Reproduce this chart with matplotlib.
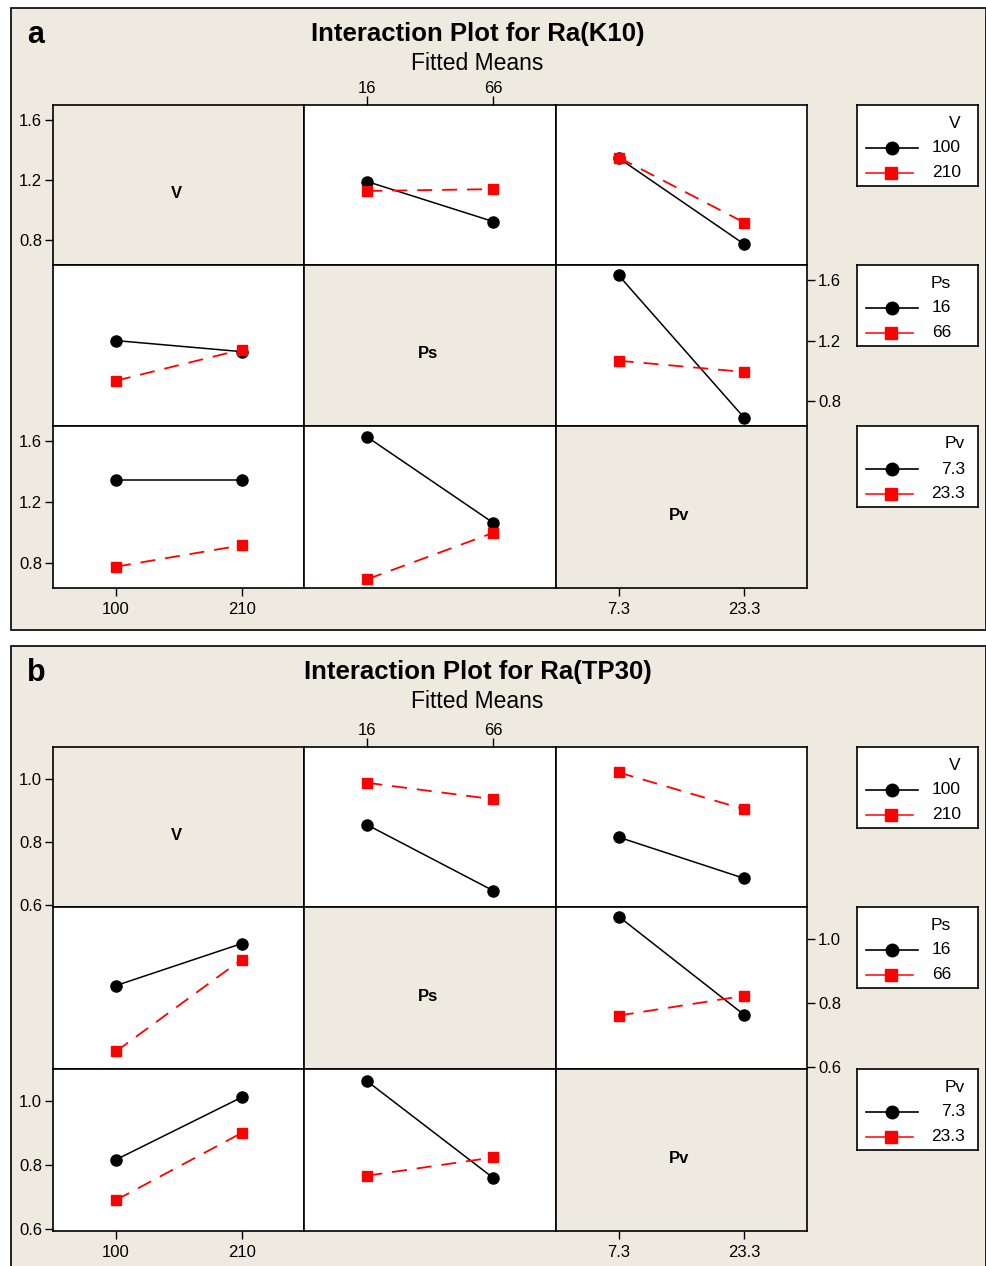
import matplotlib
matplotlib.use('Agg')
import matplotlib.pyplot as plt
from matplotlib.patches import Rectangle

plt.rcParams['font.family'] = ['Liberation Sans', 'DejaVu Sans']

# factors and their levels
FACTORS = ['V', 'Ps', 'Pv']
LEVELS = [['100', '210'], ['16', '66'], ['7.3', '23.3']]

# fitted means, Ra(K10); rows = levels of the legend factor, cols = levels of x factor
K10_V_Ps = [[1.19, 0.925], [1.128, 1.14]]
K10_V_Pv = [[1.346, 0.774], [1.35, 0.918]]
K10_Ps_V = [[1.20, 1.127], [0.935, 1.14]]
K10_Ps_Pv = [[1.63, 0.69], [1.067, 0.993]]
K10_Pv_V = [[1.345, 1.345], [0.776, 0.916]]
K10_Pv_Ps = [[1.626, 1.064], [0.694, 0.998]]

# fitted means, Ra(TP30)
TP30_V_Ps = [[0.854, 0.645], [0.988, 0.936]]
TP30_V_Pv = [[0.815, 0.684], [1.021, 0.904]]
TP30_Ps_V = [[0.855, 0.987], [0.648, 0.937]]
TP30_Ps_Pv = [[1.072, 0.763], [0.761, 0.823]]
TP30_Pv_V = [[0.817, 1.013], [0.69, 0.901]]
TP30_Pv_Ps = [[1.063, 0.76], [0.767, 0.824]]

K10_TICKS = [0.8, 1.2, 1.6]
TP30_TICKS = [0.6, 0.8, 1.0]

W, H = 987, 1266
BEIGE = '#EEEAE0'
COLS = [53, 304.5, 556, 807]


def box(x0, y0, x1, y1):
    return [x0 / W, 1 - y1 / H, (x1 - x0) / W, (y1 - y0) / H]


def draw_panel(fig, bg, top, rows, letter, title, cells, ylim, yticks):
    # outer beige frame
    bg.add_patch(Rectangle((11, top), 975, 622, facecolor=BEIGE, edgecolor='black', lw=1.2))
    bg.text(27, top + 27, letter, fontsize=22, fontweight='bold', ha='left', va='center')
    bg.text(478, top + 26, title, fontsize=18.5, fontweight='bold', ha='center', va='center')
    bg.text(477, top + 55, 'Fitted Means', fontsize=16.5, ha='center', va='center')

    for r in range(3):
        for c in range(3):
            ax = fig.add_axes(box(COLS[c], rows[r], COLS[c + 1], rows[r + 1]))
            ax.set_xlim(-0.5, 1.5)
            ax.set_ylim(ylim)
            ax.set_xticks([])
            ax.set_yticks([])
            for s in ax.spines.values():
                s.set_linewidth(1.2)
            ax.tick_params(direction='out', length=6, width=1, labelsize=12, pad=2)
            ax.tick_params(axis='x', pad=4)
            if r == c:
                ax.set_facecolor(BEIGE)
                ax.text(0.49, 0.45, FACTORS[r], transform=ax.transAxes, fontsize=12,
                        fontweight='bold', ha='center', va='center')
            else:
                vals = cells[(r, c)]
                ax.plot([0, 1], vals[0], color='black', lw=1.1, marker='o', ms=8)
                ax.plot([0, 1], vals[1], color='red', lw=1.3, ls=(0, (8.3, 5.5)),
                        marker='s', ms=7)
            if c == 0 and r != 1:
                ax.set_yticks(yticks)
                ax.set_yticklabels([f'{t:.1f}' for t in yticks])
            if r == 1 and c == 2:
                ax.yaxis.tick_right()
                ax.set_yticks(yticks)
                ax.set_yticklabels([f'{t:.1f}' for t in yticks])
            if r == 0 and c == 1:
                ax.xaxis.tick_top()
                ax.tick_params(axis='x', pad=0, length=6.5)
                ax.set_xticks([0, 1])
                ax.set_xticklabels(LEVELS[1])
            if r == 2 and c in (0, 2):
                ax.set_xticks([0, 1])
                ax.set_xticklabels(LEVELS[c])

        # legend box for row factor
        lx = fig.add_axes(box(857, rows[r], 978, rows[r] + 81))
        lx.set_xlim(0, 121)
        lx.set_ylim(81, 0)
        lx.set_xticks([])
        lx.set_yticks([])
        for s in lx.spines.values():
            s.set_linewidth(1.2)
        right = [104, 94, 108][r]
        lx.text(right, 18, FACTORS[r], fontsize=12.5, ha='right', va='center')
        lx.plot([9, 61], [43, 43], color='black', lw=1.2)
        lx.plot([35], [43], color='black', marker='o', ms=9)
        lx.plot([9, 56], [67.5, 67.5], color='red', lw=1.1)
        lx.plot([34], [67.5], color='red', marker='s', ms=8)
        lx.text(right, 43, LEVELS[r][0], fontsize=12.5, ha='right', va='center')
        lx.text(right, 67.5, LEVELS[r][1], fontsize=12.5, ha='right', va='center')


fig = plt.figure(figsize=(W / 100, H / 100), dpi=100)
bg = fig.add_axes([0, 0, 1, 1])
bg.set_xlim(0, W)
bg.set_ylim(H, 0)
bg.axis('off')

k10_cells = {(0, 1): K10_V_Ps, (0, 2): K10_V_Pv, (1, 0): K10_Ps_V,
             (1, 2): K10_Ps_Pv, (2, 0): K10_Pv_V, (2, 1): K10_Pv_Ps}
tp30_cells = {(0, 1): TP30_V_Ps, (0, 2): TP30_V_Pv, (1, 0): TP30_Ps_V,
              (1, 2): TP30_Ps_Pv, (2, 0): TP30_Pv_V, (2, 1): TP30_Pv_Ps}

draw_panel(fig, bg, 8, [105, 265, 426, 588], 'a', 'Interaction Plot for Ra(K10)',
           k10_cells, (0.636, 1.699), K10_TICKS)
draw_panel(fig, bg, 646, [747, 907, 1069, 1231], 'b', 'Interaction Plot for Ra(TP30)',
           tp30_cells, (0.593, 1.102), TP30_TICKS)

fig.savefig('out.png', dpi=100)
